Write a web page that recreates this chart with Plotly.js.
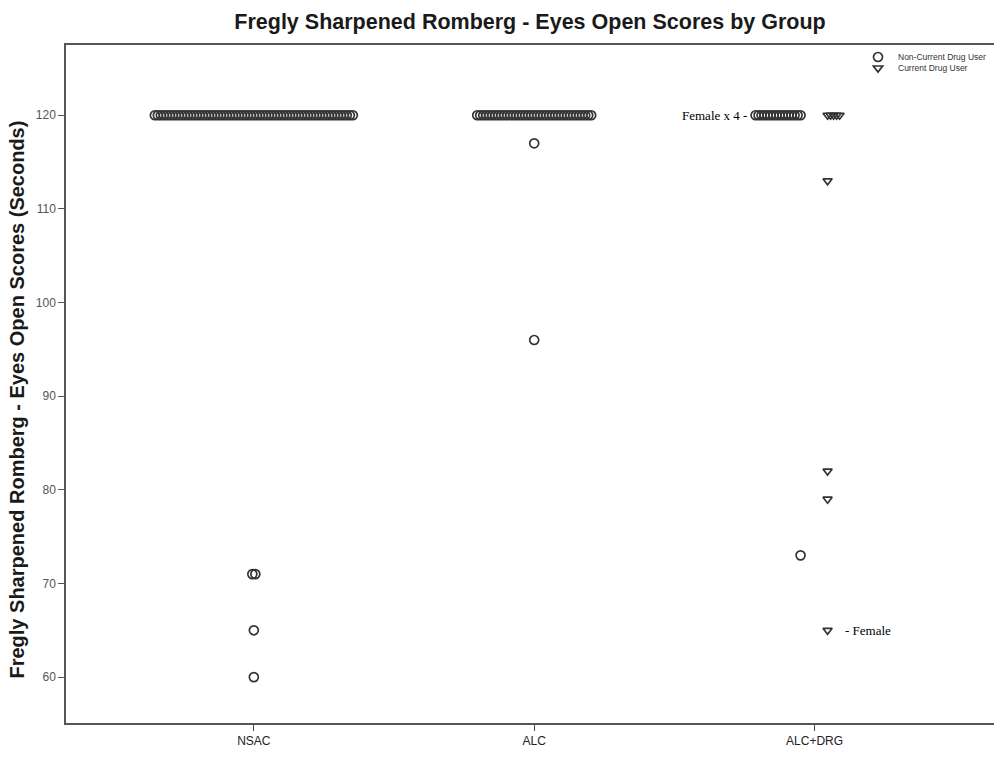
<!DOCTYPE html>
<html>
<head>
<meta charset="utf-8">
<script src="https://cdn.plot.ly/plotly-3.0.1.min.js"></script>
<style>html,body{margin:0;padding:0;background:#fff;overflow:hidden;}#chart{width:994px;height:758px;}</style>
</head>
<body>
<div id="chart"></div>
<script>
// ---- Data (value + number of cases with that value) ----
const categories = ['NSAC', 'ALC', 'ALC+DRG'];
const seriesNames = ['Non-Current Drug User', 'Current Drug User'];

const nsacNonCurrentValues = [120, 71, 65, 60];
const nsacNonCurrentCounts = [67, 2, 1, 1];

const alcNonCurrentValues = [120, 117, 96];
const alcNonCurrentCounts = [39, 1, 1];

const alcdrgNonCurrentValues = [120, 73];
const alcdrgNonCurrentCounts = [16, 1];

const alcdrgCurrentValues = [120, 113, 82, 79, 65];
const alcdrgCurrentCounts = [5, 1, 1, 1, 1];

const yTickValues = [60, 70, 80, 90, 100, 110, 120];

// ---- Layout helpers ----
const W = 994, H = 758;
const margin = {l: 66, r: 0, t: 45, b: 35, autoexpand: false};
const plotH = H - margin.t - margin.b;
const xRange = [-0.67, 2.64];
const pxPerUnit = (W - margin.l - margin.r) / (xRange[1] - xRange[0]);
const stackPx = 3;          // horizontal spacing of stacked identical values
const step = stackPx / pxPerUnit;

// symmetric stacking around category centre
function stackCentered(catIdx, values, counts, xs, ys) {
  values.forEach((v, k) => {
    const n = counts[k];
    for (let i = 0; i < n; i++) {
      xs.push(catIdx + (i - (n - 1) / 2) * step);
      ys.push(v);
    }
  });
}
// outward stacking from a clustered anchor
function stackOutward(catIdx, offsetPx, dir, values, counts, xs, ys) {
  const anchor = catIdx + offsetPx / pxPerUnit;
  values.forEach((v, k) => {
    for (let i = 0; i < counts[k]; i++) {
      xs.push(anchor + dir * i * step);
      ys.push(v);
    }
  });
}

const ncX = [], ncY = [], cX = [], cY = [];
stackCentered(0, nsacNonCurrentValues, nsacNonCurrentCounts, ncX, ncY);
stackCentered(1, alcNonCurrentValues, alcNonCurrentCounts, ncX, ncY);
stackOutward(2, -14, -1, alcdrgNonCurrentValues, alcdrgNonCurrentCounts, ncX, ncY);
stackOutward(2, 13, 1, alcdrgCurrentValues, alcdrgCurrentCounts, cX, cY);

const markColor = '#333333';
const traces = [
  {
    type: 'scatter', mode: 'markers', name: seriesNames[0], legend: 'legend',
    x: ncX, y: ncY,
    marker: {symbol: 'circle-open', size: 9, color: markColor, line: {width: 1.7, color: markColor}},
    hoverinfo: 'y'
  },
  {
    type: 'scatter', mode: 'markers', name: seriesNames[1], legend: 'legend2',
    x: cX, y: cY,
    marker: {symbol: 'triangle-down-open', size: 8, color: markColor, line: {width: 1.7, color: markColor}},
    hoverinfo: 'y'
  }
];

const legendX = (858 - margin.l) / (W - margin.l - margin.r);
const legendCommon = {
  x: legendX, xanchor: 'left', yanchor: 'middle',
  bgcolor: 'rgba(255,255,255,0)',
  font: {size: 8.5, color: '#333'},
  itemwidth: 30
};

const layout = {
  width: W, height: H,
  margin: margin,
  paper_bgcolor: '#fff', plot_bgcolor: '#fff',
  font: {family: 'Liberation Sans, Arial, sans-serif', color: '#222'},
  showlegend: true,
  title: {
    text: 'Fregly Sharpened Romberg - Eyes Open Scores by Group',
    font: {family: 'Liberation Sans, Arial, sans-serif', size: 21.5, color: '#1a1a1a', weight: 'bold'},
    x: 0.5, xref: 'paper', xanchor: 'center',
    y: 1 - 21 / H, yref: 'container', yanchor: 'middle'
  },
  xaxis: {
    range: xRange,
    tickmode: 'array', tickvals: [0, 1, 2], ticktext: categories,
    ticks: 'outside', ticklen: 6, tickwidth: 1, tickcolor: '#444',
    showline: true, linecolor: '#555', linewidth: 1.5, mirror: true,
    showgrid: false, zeroline: false,
    tickfont: {size: 12, color: '#222'}
  },
  yaxis: {
    range: [55.1, 127.5],
    tickmode: 'array', tickvals: yTickValues,
    ticks: 'outside', ticklen: 6, tickwidth: 1, tickcolor: '#555',
    showline: true, linecolor: '#555', linewidth: 1.5,
    showgrid: false, zeroline: false,
    tickfont: {size: 12, color: '#555'},
    title: {
      text: 'Fregly Sharpened Romberg - Eyes Open Scores (Seconds)<span style="color:rgba(0,0,0,0)">\u2014\u2013</span>',
      font: {size: 20, color: '#1a1a1a', weight: 'bold'},
      standoff: 6
    }
  },
  legend: Object.assign({y: 1 - (57 - margin.t) / plotH}, legendCommon),
  legend2: Object.assign({y: 1 - (68 - margin.t) / plotH}, legendCommon),
  annotations: [
    {
      x: 2, y: 120, xref: 'x', yref: 'y',
      text: 'Female x 4 -', showarrow: false,
      xanchor: 'right', yanchor: 'middle', xshift: -66,
      font: {family: 'Liberation Serif, Times New Roman, serif', size: 13, color: '#000'}
    },
    {
      x: 2, y: 65, xref: 'x', yref: 'y',
      text: '- Female', showarrow: false,
      xanchor: 'left', yanchor: 'middle', xshift: 28,
      font: {family: 'Liberation Serif, Times New Roman, serif', size: 13, color: '#000'}
    }
  ]
};

Plotly.newPlot('chart', traces, layout, {displayModeBar: false, responsive: false});
</script>
</body>
</html>
